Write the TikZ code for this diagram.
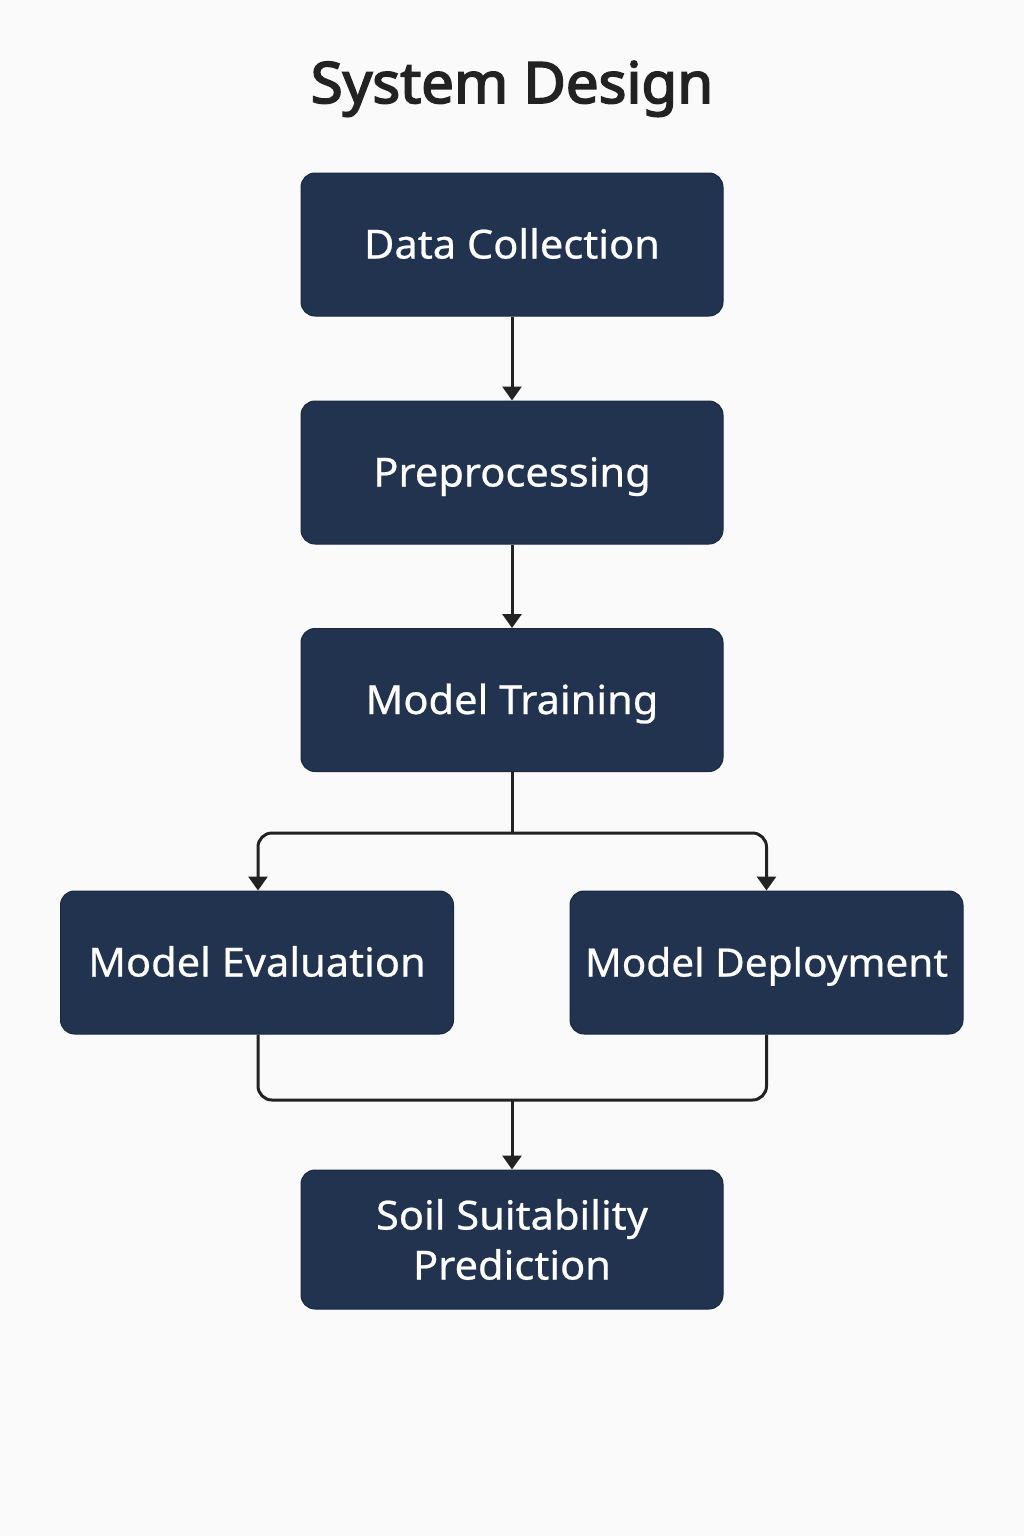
\documentclass[tikz,border=0pt]{standalone}
\usepackage{fontspec}
\setmainfont{Noto Sans}[FakeStretch=1.04, FakeBold=0.6]
\newfontfamily\titlefont{Noto Sans}[FakeBold=3, FakeStretch=1.02]
\usetikzlibrary{arrows.meta}
\definecolor{bg}{HTML}{FAFAFA}
\definecolor{navy}{HTML}{22334F}
\definecolor{navyedge}{HTML}{1A2940}
\definecolor{ink}{HTML}{222222}
\tikzset{
  boxbase/.style={rectangle, rounded corners=14pt, fill=navy, draw=navyedge, line width=1pt,
    minimum width=422pt, minimum height=143pt, text=white, align=center,
    font=\fontsize{40}{50}\selectfont, inner sep=0pt},
  stepbox/.style={boxbase, text height=28pt, text depth=0pt},
  widebox/.style={stepbox, minimum width=393pt},
  conn/.style={draw=ink, line width=3pt},
  arr/.style={conn, -{Triangle[width=19pt,length=14pt]}},
}
\begin{document}
\begin{tikzpicture}[x=1pt,y=-1pt]
\fill[bg] (0,0) rectangle (1024,1536);
\useasboundingbox (0,0) rectangle (1024,1536);
\node[anchor=base, text=ink, font=\titlefont\fontsize{57}{70}\selectfont] (title) at (512,103) {System Design};
\node[stepbox] (collect) at (512,244.5) {Data Collection};
\node[stepbox] (prep) at (512,472.5) {Preprocessing};
\node[stepbox] (train) at (512,700) {Model Training};
\node[widebox] (eval) at (257,962.5) {Model Evaluation};
\node[widebox, font=\fontsize{39}{50}\selectfont] (deploy) at (766.5,962.5) {Model Deployment};
\node[boxbase, minimum height=139pt] (soil) at (512,1239.5) {Soil Suitability\\Prediction};
\coordinate (split) at (512,833);
\coordinate (merge) at (512,1100);
\draw[arr] (collect.south) -- (prep.north);
\draw[arr] (prep.south) -- (train.north);
\draw[conn] (train.south) -- (split);
\draw[arr, rounded corners=14pt] (split) -| ([xshift=1pt]eval.north);
\draw[arr, rounded corners=14pt] (split) -| (deploy.north);
\draw[conn, rounded corners=14pt] ([xshift=1pt]eval.south) |- (merge) -| (deploy.south);
\draw[arr] (merge) -- (soil.north);
\end{tikzpicture}
\end{document}
